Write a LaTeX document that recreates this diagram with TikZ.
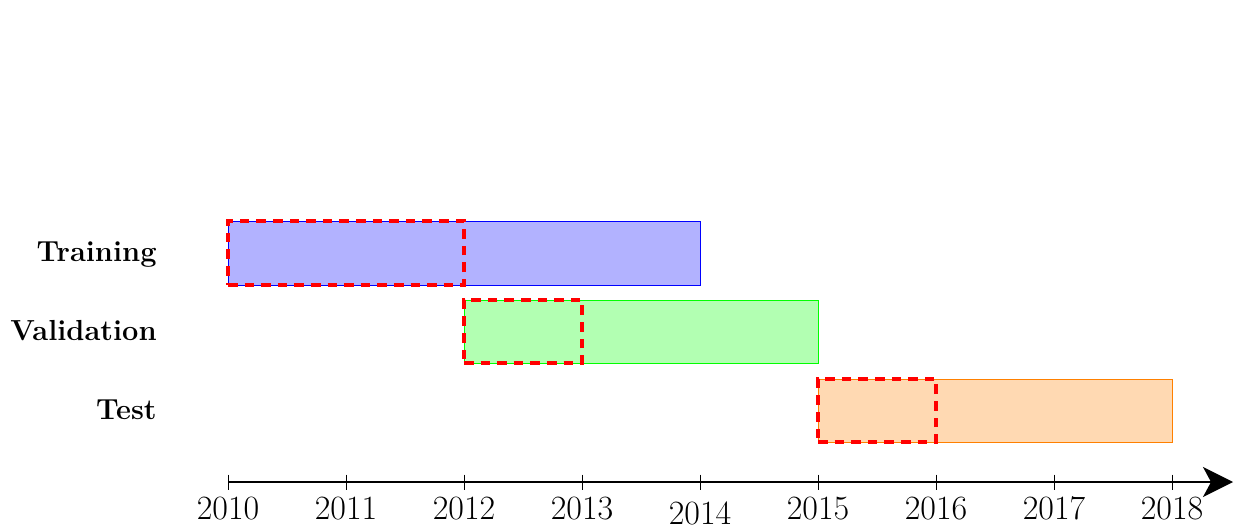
\documentclass[tikz,border=0pt]{standalone}
\usetikzlibrary{arrows.meta}
\begin{document}
\begin{tikzpicture}[x=0.5pt,y=-0.5pt,
  bar/.style={draw, line width=0.5pt, inner sep=0pt, outer sep=0pt, anchor=north west},
  sub/.style={draw=red, line width=1.7pt, dash pattern=on 4.8pt off 3.5pt, inner sep=0pt, outer sep=0pt, anchor=north west},
  lab/.style={anchor=base east, font=\fontsize{14.5}{17}\selectfont\bfseries, inner sep=0pt},
  yr/.style={anchor=base, font=\fontsize{17}{19}\selectfont, inner sep=0pt},
  tickmark/.style={line width=0.5pt},
  axis/.style={line width=1pt, -{Stealth[length=15pt, width=15pt, inset=4pt]}}]
\useasboundingbox (0,0) rectangle (1236,530);

% bars
\node[bar, draw=blue, fill=blue!30, minimum width=236pt, minimum height=32pt] (train) at (228,221) {};
\node[bar, draw=green, fill=green!30, minimum width=177pt, minimum height=31.5pt] (val) at (464,300) {};
\node[bar, draw=orange, fill=orange!30, minimum width=177pt, minimum height=31.5pt] (test) at (818,379) {};

% dashed sub-windows
\node[sub, minimum width=118pt, minimum height=32pt] (trainsub) at (228,221) {};
\node[sub, minimum width=59pt, minimum height=31.5pt] (valsub) at (464,300) {};
\node[sub, minimum width=59pt, minimum height=31.5pt] (testsub) at (818,379) {};

% labels
\node[lab] (ltrain) at (157,261) {Training};
\node[lab] (lval) at (157,340) {Validation};
\node[lab] (ltest) at (157,419) {Test};

% axis
\coordinate (astart) at (228,482);
\coordinate (aend) at (1233,482);
\draw[axis] (astart) -- (aend);

\foreach \i/\y in {0/2010,1/2011,2/2012,3/2013,5/2015,6/2016,7/2017,8/2018}{
  \coordinate (t\y) at (228+118*\i,482);
  \draw[tickmark] ([yshift=3.75pt]t\y) -- ([yshift=-3.75pt]t\y);
  \node[yr] (y\y) at (228+118*\i,519) {\y};
}
\coordinate (t2014) at (700,482);
\draw[tickmark] ([yshift=3.75pt]t2014) -- ([yshift=-3.75pt]t2014);
\node[yr] (y2014) at (700,524) {2014};
\end{tikzpicture}
\end{document}
